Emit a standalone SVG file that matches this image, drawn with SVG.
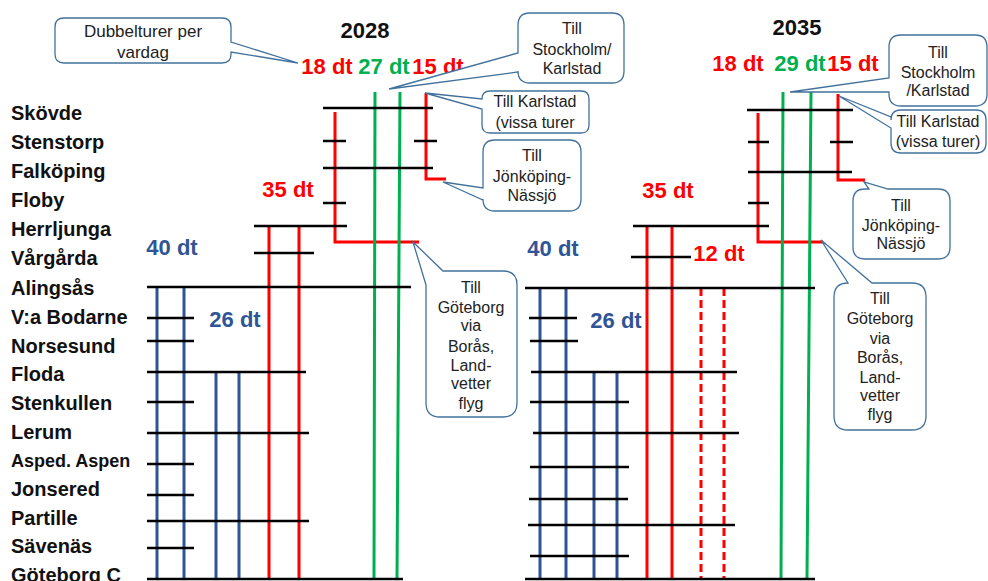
<svg xmlns="http://www.w3.org/2000/svg" width="988" height="581" viewBox="0 0 988 581">
<style>
.st{font-family:"Liberation Sans",Arial,sans-serif;font-weight:bold;font-size:20px;fill:#111}
.yr{font-family:"Liberation Sans",Arial,sans-serif;font-weight:bold;font-size:22px;fill:#111;text-anchor:middle}
.dt{font-family:"Liberation Sans",Arial,sans-serif;font-weight:bold;font-size:22px;text-anchor:middle}
.red{fill:#FF0000}.grn{fill:#00B050}.blu{fill:#2F5597}
.co{fill:#fff;stroke:#41719C;stroke-width:1.3}
.ct{font-family:"Liberation Sans",Arial,sans-serif;font-size:16px;fill:#222;text-anchor:middle}
.k{stroke:#000;stroke-width:2.5;fill:none}
.r{stroke:#FF0000;stroke-width:3;fill:none}
.rd{stroke:#FF0000;stroke-width:3;fill:none;stroke-dasharray:8 4}
.g{stroke:#00B050;stroke-width:3;fill:none}
.b{stroke:#2F5597;stroke-width:3;fill:none}
</style>
<rect width="988" height="581" fill="#fff"/>
<g id="stations">
<text class="st" x="11" y="119.9">Skövde</text>
<text class="st" x="11" y="149">Stenstorp</text>
<text class="st" x="11" y="178.1">Falköping</text>
<text class="st" x="11" y="207.2">Floby</text>
<text class="st" x="11" y="236.3">Herrljunga</text>
<text class="st" x="11" y="265.4">Vårgårda</text>
<text class="st" x="11" y="294.5">Alingsås</text>
<text class="st" x="11" y="323.6">V:a Bodarne</text>
<text class="st" x="11" y="352.7">Norsesund</text>
<text class="st" x="11" y="381.4">Floda</text>
<text class="st" x="11" y="410">Stenkullen</text>
<text class="st" x="11" y="438.7">Lerum</text>
<text class="st" x="11" y="467.3" style="font-size:18px">Asped. Aspen</text>
<text class="st" x="11" y="496">Jonsered</text>
<text class="st" x="11" y="524.6">Partille</text>
<text class="st" x="11" y="553.3">Sävenäs</text>
<text class="st" x="11" y="581.5">Göteborg C</text>
</g>
<g id="connectors">
<path class="b" d="M157,287V579M184,287V579M216,372V579M239,372V579"/>
<path class="r" d="M269,226V579M299,226V579"/>
<path class="r" d="M335,112V242H419"/>
<path class="r" d="M426,93V179H446"/>
<path class="g" d="M375,92L374,579M400,92L397,579"/>
<path class="k" d="M323,108H433M323,141H346M414,141H437M323,168H433M323,203H346M254,226H347M254,253H314M147,287H411M147,318H194M147,341H194M147,372H306M147,402H194M147,433H309M147,464H194M147,495H194M147,521H309M147,548H194M147,579H403"/>
<path class="b" d="M540,288V579M566,288V579M594,372V579M617,372V579"/>
<path class="r" d="M647,226V579M672,226V579"/>
<path class="rd" d="M701,288V579M724,288V579"/>
<path class="r" d="M758,113V242H823"/>
<path class="r" d="M838,94V180H865"/>
<path class="g" d="M783,92L781,579M811,92L807,579"/>
<path class="k" d="M747,110H853M748,142H769M830,142H853M748,172H852M748,203H769M633,226H769M631,257H691M525,288H815M529,318H577M530,341H578M531,372H737M530,402H629M533,433H739M530,467H629M529,499H628M528,525H735M530,556H629M525,579H815"/>
</g>
<g id="titles">
<text class="yr" x="365" y="38">2028</text>
<text class="yr" x="797" y="35">2035</text>
<text class="dt red" x="327" y="74">18 dt</text>
<text class="dt grn" x="384" y="74">27 dt</text>
<text class="dt red" x="438" y="74">15 dt</text>
<text class="dt red" x="738" y="71">18 dt</text>
<text class="dt grn" x="800" y="71">29 dt</text>
<text class="dt red" x="853" y="71">15 dt</text>
<text class="dt red" x="288" y="197">35 dt</text>
<text class="dt red" x="668" y="198">35 dt</text>
<text class="dt red" x="719" y="261">12 dt</text>
<text class="dt blu" x="172" y="255">40 dt</text>
<text class="dt blu" x="553" y="256">40 dt</text>
<text class="dt blu" x="235" y="327">26 dt</text>
<text class="dt blu" x="616" y="328">26 dt</text>
</g>
<g id="callout-dubbelturer">
<path class="co" d="M64,18H222Q231,18 231,27V42L298,63L231,52V54Q231,63 222,63H64Q55,63 55,54V27Q55,18 64,18Z"/>
<text class="ct" x="143" y="37" style="font-size:17px">Dubbelturer per</text>
<text class="ct" x="143" y="58" style="font-size:17px">vardag</text>
</g>
<g id="callout-stockholm-2028">
<path class="co" d="M530,13H612Q624,13 624,25V71Q624,83 612,83H530Q518,83 518,71V72L389,89L518,53V25Q518,13 530,13Z"/>
<text class="ct" x="572" y="34">Till</text>
<text class="ct" x="572" y="55">Stockholm/</text>
<text class="ct" x="572" y="74">Karlstad</text>
</g>
<g id="callout-karlstad-2028">
<path class="co" d="M490,91H581Q589,91 589,99V125Q589,133 581,133H490Q482,133 482,125V109L425,93L482,99Q482,91 490,91Z"/>
<text class="ct" x="535" y="107">Till Karlstad</text>
<text class="ct" x="535" y="128">(vissa turer</text>
</g>
<g id="callout-jonkoping-2028">
<path class="co" d="M495,140H569Q581,140 581,152V199Q581,211 569,211H495Q483,211 483,199V200L443,182L483,188V152Q483,140 495,140Z"/>
<text class="ct" x="532" y="161">Till</text>
<text class="ct" x="532" y="182">Jönköping-</text>
<text class="ct" x="532" y="201">Nässjö</text>
</g>
<g id="callout-goteborg-2028">
<path class="co" d="M426,285L413,242L443,271H503Q517,271 517,285V403Q517,417 503,417H440Q426,417 426,403Z"/>
<text class="ct" x="471" y="293">Till</text>
<text class="ct" x="471" y="313">Göteborg</text>
<text class="ct" x="471" y="331">via</text>
<text class="ct" x="471" y="352">Borås,</text>
<text class="ct" x="471" y="371">Land-</text>
<text class="ct" x="471" y="389">vetter</text>
<text class="ct" x="471" y="409">flyg</text>
</g>
<g id="callout-stockholm-2035">
<path class="co" d="M901,35H975Q987,35 987,47V94Q987,106 975,106H901Q889,106 889,94V92L790,92L889,78V47Q889,35 901,35Z"/>
<text class="ct" x="938" y="58">Till</text>
<text class="ct" x="938" y="78">Stockholm</text>
<text class="ct" x="938" y="96">/Karlstad</text>
</g>
<g id="callout-karlstad-2035">
<path class="co" d="M901,110H976Q986,110 986,120V143Q986,153 976,153H901Q891,153 891,143V128L839,96L891,117V120Q891,110 901,110Z"/>
<text class="ct" x="938" y="127">Till Karlstad</text>
<text class="ct" x="938" y="147">(vissa turer)</text>
</g>
<g id="callout-jonkoping-2035">
<path class="co" d="M865,189H869L864,182L888,189H938Q950,189 950,201V247Q950,259 938,259H865Q853,259 853,247V201Q853,189 865,189Z"/>
<text class="ct" x="901" y="211">Till</text>
<text class="ct" x="901" y="231">Jönköping-</text>
<text class="ct" x="901" y="249">Nässjö</text>
</g>
<g id="callout-goteborg-2035">
<path class="co" d="M848,283L821,240L872,283H912Q926,283 926,297V416Q926,430 912,430H848Q834,430 834,416V297Q834,283 848,283Z"/>
<text class="ct" x="880" y="304">Till</text>
<text class="ct" x="880" y="324">Göteborg</text>
<text class="ct" x="880" y="344">via</text>
<text class="ct" x="880" y="363">Borås,</text>
<text class="ct" x="880" y="383">Land-</text>
<text class="ct" x="880" y="401">vetter</text>
<text class="ct" x="880" y="420">flyg</text>
</g>
</svg>
